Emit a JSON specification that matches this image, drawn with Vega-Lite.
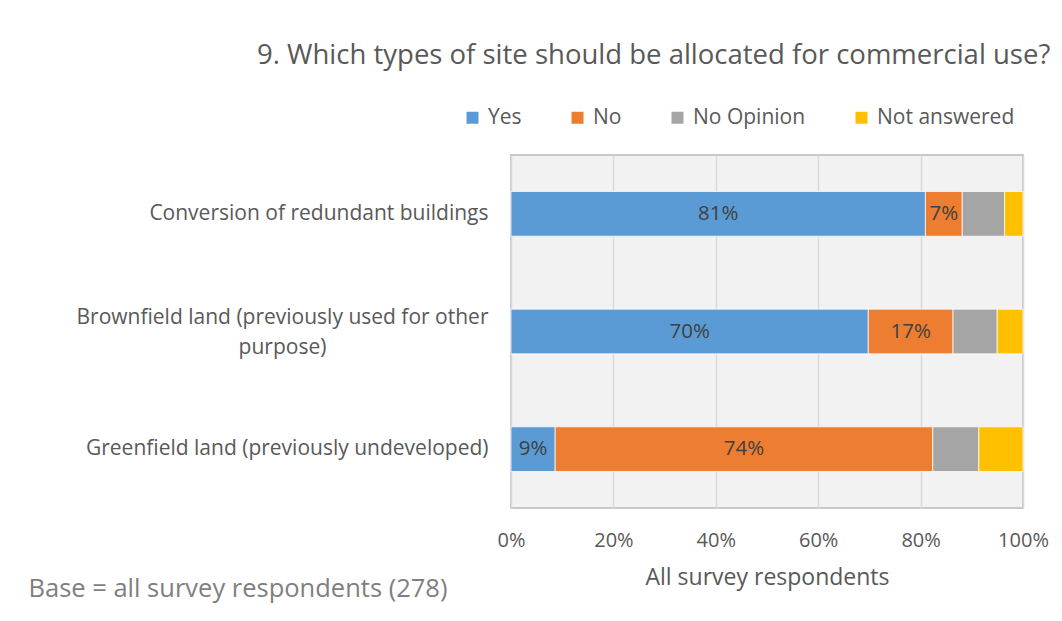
{
  "$schema": "https://vega.github.io/schema/vega-lite/v6.json",
  "autosize": "none",
  "width": 512,
  "height": 353,
  "padding": {"left": 511, "top": 155, "right": 39, "bottom": 113},
  "background": "white",
  "title": {
    "text": "9. Which types of site should be allocated for commercial use?",
    "anchor": "start",
    "frame": "group",
    "dx": -254,
    "offset": 16,
    "baseline": "alphabetic",
    "fontSize": 27.5,
    "fontWeight": "normal",
    "color": "#595959"
  },
  "data": {
    "values": [
      {"site": "Conversion of redundant buildings", "type": "Yes", "pct": 0.8094},
      {"site": "Conversion of redundant buildings", "type": "No", "pct": 0.0719},
      {"site": "Conversion of redundant buildings", "type": "No Opinion", "pct": 0.0827},
      {"site": "Conversion of redundant buildings", "type": "Not answered", "pct": 0.0360},
      {"site": "Brownfield land (previously used for other purpose)", "type": "Yes", "pct": 0.6978},
      {"site": "Brownfield land (previously used for other purpose)", "type": "No", "pct": 0.1655},
      {"site": "Brownfield land (previously used for other purpose)", "type": "No Opinion", "pct": 0.0863},
      {"site": "Brownfield land (previously used for other purpose)", "type": "Not answered", "pct": 0.0504},
      {"site": "Greenfield land (previously undeveloped)", "type": "Yes", "pct": 0.0863},
      {"site": "Greenfield land (previously undeveloped)", "type": "No", "pct": 0.7374},
      {"site": "Greenfield land (previously undeveloped)", "type": "No Opinion", "pct": 0.0899},
      {"site": "Greenfield land (previously undeveloped)", "type": "Not answered", "pct": 0.0863}
    ]
  },
  "transform": [
    {"window": [{"op": "row_number", "as": "rank"}], "groupby": ["site"]},
    {"stack": "pct", "groupby": ["site"], "sort": [{"field": "rank"}], "offset": "normalize", "as": ["x0", "x1"]}
  ],
  "encoding": {
    "y": {
      "field": "site",
      "type": "nominal",
      "sort": ["Conversion of redundant buildings", "Brownfield land (previously used for other purpose)", "Greenfield land (previously undeveloped)"],
      "scale": {"paddingInner": 0.62, "paddingOuter": 0.31},
      "axis": {
        "title": "Base = all survey respondents (278)",
        "titleAngle": 0,
        "titleX": -483,
        "titleY": 433,
        "titleAlign": "left",
        "titleBaseline": "middle",
        "titleFontSize": 25.5,
        "titleFontWeight": "normal",
        "titleColor": "#7f7f7f",
        "ticks": false,
        "domain": false,
        "labelFontSize": 21,
        "labelColor": "#595959",
        "labelLimit": 700,
        "labelLineHeight": 30,
        "labelAlign": {"condition": {"test": "datum.value === 'Brownfield land (previously used for other purpose)'", "value": "center"}, "value": "right"},
        "labelPadding": {"condition": {"test": "datum.value === 'Brownfield land (previously used for other purpose)'", "value": 229}, "value": 23},
        "labelOffset": {"condition": {"test": "datum.value === 'Brownfield land (previously used for other purpose)'", "value": -14}, "value": 0},
        "labelExpr": "datum.label == 'Brownfield land (previously used for other purpose)' ? ['Brownfield land (previously used for other', 'purpose)'] : datum.label"
      }
    }
  },
  "layer": [
    {
      "mark": {"type": "bar", "stroke": "white", "strokeWidth": 0.75},
      "encoding": {
        "x": {
          "field": "x0",
          "type": "quantitative",
          "scale": {"domain": [0, 1], "nice": false},
          "axis": {
            "values": [0, 0.2, 0.4, 0.6, 0.8, 1],
            "format": ".0%",
            "grid": true,
            "gridColor": "#d9d9d9",
            "gridWidth": 1.5,
            "domain": false,
            "ticks": false,
            "labelFlush": false,
            "labelFontSize": 20,
            "labelColor": "#595959",
            "labelPadding": 22,
            "title": "All survey respondents",
            "titleFontSize": 23,
            "titleFontWeight": "normal",
            "titleColor": "#595959",
            "titlePadding": 16
          }
        },
        "x2": {"field": "x1"},
        "color": {
          "field": "type",
          "type": "nominal",
          "scale": {
            "domain": ["Yes", "No", "No Opinion", "Not answered"],
            "range": ["#5b9bd5", "#ed7d31", "#a5a5a5", "#ffc000"]
          },
          "legend": {
            "title": null,
            "orient": "none",
            "direction": "horizontal",
            "columns": 4,
            "legendX": -49,
            "legendY": -48,
            "symbolType": "square",
            "symbolSize": 144,
            "symbolStrokeWidth": 0,
            "labelFontSize": 21,
            "labelColor": "#595959",
            "labelOffset": 5,
            "columnPadding": 45,
            "padding": 0
          }
        }
      }
    },
    {
      "transform": [
        {"filter": {"field": "type", "oneOf": ["Yes", "No"]}},
        {"fold": ["x0", "x1"], "as": ["edge", "pos"]},
        {"aggregate": [{"op": "mean", "field": "pos", "as": "mid"}], "groupby": ["site", "type", "pct"]}
      ],
      "mark": {"type": "text", "fontSize": 20.5, "color": "#404040", "baseline": "middle", "align": "center"},
      "encoding": {
        "x": {"field": "mid", "type": "quantitative"},
        "text": {"field": "pct", "type": "quantitative", "format": ".0%"}
      }
    }
  ],
  "config": {
    "font": "Open Sans",
    "view": {"fill": "#f2f2f2", "stroke": "#c8c8c8", "strokeWidth": 2}
  }
}
